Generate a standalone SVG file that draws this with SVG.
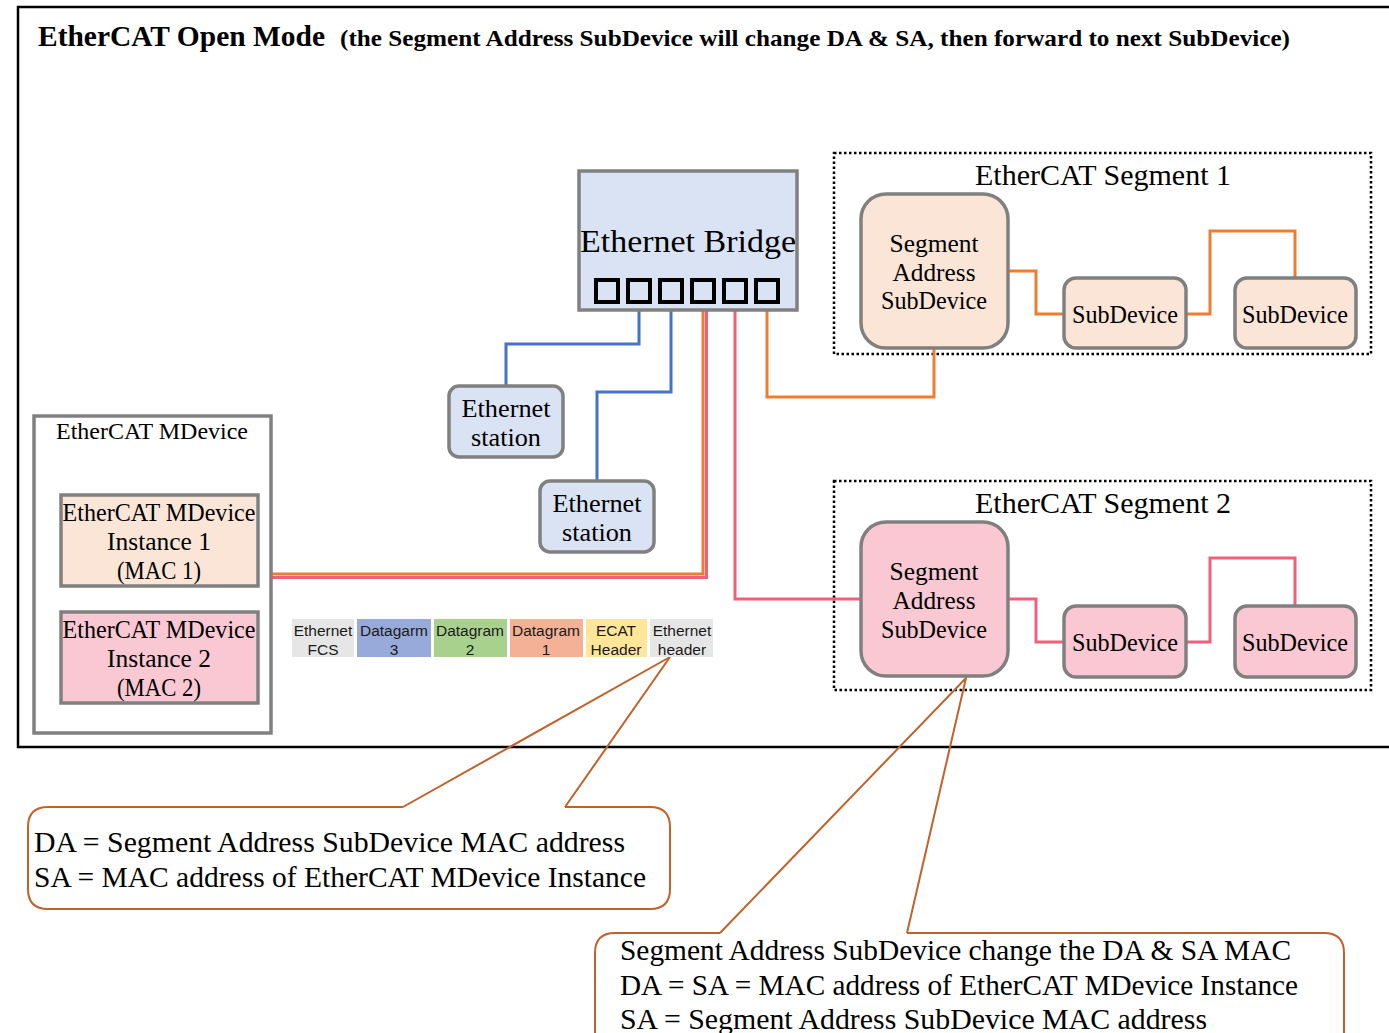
<svg xmlns="http://www.w3.org/2000/svg" width="1389" height="1033" viewBox="0 0 1389 1033">
<style>
.serif{font-family:"Liberation Serif","DejaVu Serif",serif;fill:#000}
.sans{font-family:"Liberation Sans",Arial,sans-serif;fill:#1a1a1a;font-size:15.5px}
.box{stroke:#808080;stroke-width:3.5}
.peach{fill:#fbe5d6}
.pink{fill:#f9c8d2}
.lblue{fill:#dae3f3}
.port{fill:none;stroke:#000;stroke-width:4}
.dotted{fill:none;stroke:#000;stroke-width:2.5;stroke-dasharray:2.5 2.5}
.blue{fill:none;stroke:#4472c4;stroke-width:3}
.orange{fill:none;stroke:#ed7d31;stroke-width:3}
.red{fill:none;stroke:#f0607a;stroke-width:3}
.callout{fill:none;stroke:#c0622a;stroke-width:2}
</style>
<rect width="1389" height="1033" fill="#fff"/>
<path d="M1395,7 H18 V747 H1395" fill="none" stroke="#000" stroke-width="2.5"/>
<g id="title">
<text class="serif" x="38" y="46" font-size="29" font-weight="bold" textLength="287" lengthAdjust="spacingAndGlyphs">EtherCAT Open Mode</text>
<text class="serif" x="340" y="46" font-size="23" font-weight="bold" textLength="950" lengthAdjust="spacingAndGlyphs">(the Segment Address SubDevice will change DA &amp; SA, then forward to next SubDevice)</text>
</g>
<g id="segment1-frame">
<rect class="dotted" x="834" y="153" width="537" height="201"/>
<text class="serif" x="1103" y="185" font-size="29" text-anchor="middle" textLength="256" lengthAdjust="spacingAndGlyphs">EtherCAT Segment 1</text>
</g>
<g id="segment2-frame">
<rect class="dotted" x="834" y="481" width="537" height="209"/>
<text class="serif" x="1103" y="513" font-size="29" text-anchor="middle" textLength="256" lengthAdjust="spacingAndGlyphs">EtherCAT Segment 2</text>
</g>
<g id="connectors">
<path class="blue" d="M639,309 V344 H506 V386"/>
<path class="blue" d="M671,309 V392 H597 V481"/>
<path class="orange" d="M703,309 V574 H272"/>
<path class="red" d="M706.5,309 V577.5 H272" stroke-width="4"/>
<path class="red" d="M735,309 V599 H861"/>
<path class="orange" d="M767,309 V397 H934 V349"/>
<path class="orange" d="M1008,271 H1036 V314 H1064"/>
<path class="orange" d="M1186,314 H1210 V231 H1295 V278"/>
<path class="red" d="M1008,599 H1036 V642 H1064"/>
<path class="red" d="M1186,642 H1210 V558 H1295 V606"/>
<path class="callout" d="M403,807 L670,657 L565,807"/>
<path class="callout" d="M720,933 L966,678 L907,933"/>
</g>
<g id="ethernet-bridge">
<rect class="box lblue" x="579" y="171" width="218" height="139"/>
<text class="serif" x="688" y="252" font-size="32" text-anchor="middle" textLength="216" lengthAdjust="spacingAndGlyphs">Ethernet Bridge</text>
<rect class="port" x="596" y="280" width="22" height="22"/>
<rect class="port" x="628" y="280" width="22" height="22"/>
<rect class="port" x="660" y="280" width="22" height="22"/>
<rect class="port" x="692" y="280" width="22" height="22"/>
<rect class="port" x="724" y="280" width="22" height="22"/>
<rect class="port" x="756" y="280" width="22" height="22"/>
</g>
<g id="ethernet-station-1">
<rect class="box lblue" x="449" y="386" width="114" height="71" rx="10"/>
<text class="serif" x="506" y="417" font-size="24.5" text-anchor="middle" textLength="89" lengthAdjust="spacingAndGlyphs">Ethernet</text>
<text class="serif" x="506" y="446" font-size="24.5" text-anchor="middle" textLength="70" lengthAdjust="spacingAndGlyphs">station</text>
</g>
<g id="ethernet-station-2">
<rect class="box lblue" x="540" y="481" width="114" height="71" rx="10"/>
<text class="serif" x="597" y="512" font-size="24.5" text-anchor="middle" textLength="89" lengthAdjust="spacingAndGlyphs">Ethernet</text>
<text class="serif" x="597" y="541" font-size="24.5" text-anchor="middle" textLength="70" lengthAdjust="spacingAndGlyphs">station</text>
</g>
<g id="mdevice">
<rect class="box" fill="#fff" x="34" y="416" width="237" height="317"/>
<text class="serif" x="152" y="439" font-size="23.5" text-anchor="middle" textLength="192" lengthAdjust="spacingAndGlyphs">EtherCAT MDevice</text>
</g>
<g id="mdevice-instance-1">
<rect class="box peach" x="61" y="495" width="197" height="91"/>
<text class="serif" x="159" y="521" font-size="24.5" text-anchor="middle" textLength="193" lengthAdjust="spacingAndGlyphs">EtherCAT MDevice</text>
<text class="serif" x="159" y="550" font-size="24.5" text-anchor="middle" textLength="104" lengthAdjust="spacingAndGlyphs">Instance 1</text>
<text class="serif" x="159" y="579" font-size="24.5" text-anchor="middle" textLength="84" lengthAdjust="spacingAndGlyphs">(MAC 1)</text>
</g>
<g id="mdevice-instance-2">
<rect class="box pink" x="61" y="612" width="197" height="91"/>
<text class="serif" x="159" y="638" font-size="24.5" text-anchor="middle" textLength="193" lengthAdjust="spacingAndGlyphs">EtherCAT MDevice</text>
<text class="serif" x="159" y="667" font-size="24.5" text-anchor="middle" textLength="104" lengthAdjust="spacingAndGlyphs">Instance 2</text>
<text class="serif" x="159" y="696" font-size="24.5" text-anchor="middle" textLength="84" lengthAdjust="spacingAndGlyphs">(MAC 2)</text>
</g>
<g id="frame">
<rect x="292" y="619" width="62" height="38" fill="#e7e6e6"/>
<rect x="357" y="619" width="74" height="38" fill="#97aad9"/>
<rect x="434" y="619" width="73" height="38" fill="#a9d18e"/>
<rect x="510" y="619" width="73" height="38" fill="#f4b195"/>
<rect x="586" y="619" width="61" height="38" fill="#ffe699"/>
<rect x="650" y="619" width="63" height="38" fill="#e7e6e6"/>
<text class="sans" text-anchor="middle"><tspan x="323" y="636">Ethernet</tspan><tspan x="323" y="655">FCS</tspan></text>
<text class="sans" text-anchor="middle"><tspan x="394" y="636">Datagarm</tspan><tspan x="394" y="655">3</tspan></text>
<text class="sans" text-anchor="middle"><tspan x="470" y="636">Datagram</tspan><tspan x="470" y="655">2</tspan></text>
<text class="sans" text-anchor="middle"><tspan x="546" y="636">Datagram</tspan><tspan x="546" y="655">1</tspan></text>
<text class="sans" text-anchor="middle"><tspan x="616" y="636">ECAT</tspan><tspan x="616" y="655">Header</tspan></text>
<text class="sans" text-anchor="middle"><tspan x="682" y="636">Ethernet</tspan><tspan x="682" y="655">header</tspan></text>
</g>
<g id="seg1-sa-subdevice">
<rect class="box peach" x="861" y="194" width="147" height="154" rx="25" stroke-width="4"/>
<text class="serif" x="934" y="252" font-size="24.5" text-anchor="middle" textLength="89" lengthAdjust="spacingAndGlyphs">Segment</text>
<text class="serif" x="934" y="281" font-size="24.5" text-anchor="middle" textLength="83" lengthAdjust="spacingAndGlyphs">Address</text>
<text class="serif" x="934" y="309" font-size="24.5" text-anchor="middle" textLength="106" lengthAdjust="spacingAndGlyphs">SubDevice</text>
</g>
<g id="seg1-subdevice-1">
<rect class="box peach" x="1064" y="278" width="122" height="70" rx="12" stroke-width="4"/>
<text class="serif" x="1125" y="323" font-size="24.5" text-anchor="middle" textLength="106" lengthAdjust="spacingAndGlyphs">SubDevice</text>
</g>
<g id="seg1-subdevice-2">
<rect class="box peach" x="1235" y="278" width="121" height="70" rx="12" stroke-width="4"/>
<text class="serif" x="1295" y="323" font-size="24.5" text-anchor="middle" textLength="106" lengthAdjust="spacingAndGlyphs">SubDevice</text>
</g>
<g id="seg2-sa-subdevice">
<rect class="box pink" x="861" y="522" width="147" height="154" rx="25" stroke-width="4"/>
<text class="serif" x="934" y="580" font-size="24.5" text-anchor="middle" textLength="89" lengthAdjust="spacingAndGlyphs">Segment</text>
<text class="serif" x="934" y="609" font-size="24.5" text-anchor="middle" textLength="83" lengthAdjust="spacingAndGlyphs">Address</text>
<text class="serif" x="934" y="638" font-size="24.5" text-anchor="middle" textLength="106" lengthAdjust="spacingAndGlyphs">SubDevice</text>
</g>
<g id="seg2-subdevice-1">
<rect class="box pink" x="1064" y="606" width="122" height="71" rx="12" stroke-width="4"/>
<text class="serif" x="1125" y="651" font-size="24.5" text-anchor="middle" textLength="106" lengthAdjust="spacingAndGlyphs">SubDevice</text>
</g>
<g id="seg2-subdevice-2">
<rect class="box pink" x="1235" y="606" width="121" height="71" rx="12" stroke-width="4"/>
<text class="serif" x="1295" y="651" font-size="24.5" text-anchor="middle" textLength="106" lengthAdjust="spacingAndGlyphs">SubDevice</text>
</g>
<g id="callout-1">
<path class="callout" d="M403,807 H48 Q28,807 28,827 V889 Q28,909 48,909 H650 Q670,909 670,889 V827 Q670,807 650,807 H565"/>
<text class="serif" x="34" y="852" font-size="29" textLength="591" lengthAdjust="spacingAndGlyphs">DA = Segment Address SubDevice MAC address</text>
<text class="serif" x="34" y="887" font-size="29" textLength="612" lengthAdjust="spacingAndGlyphs">SA = MAC address of EtherCAT MDevice Instance</text>
</g>
<g id="callout-2">
<path class="callout" d="M720,933 H615 Q595,933 595,953 V1060 M1344,1060 V953 Q1344,933 1324,933 H907"/>
<text class="serif" x="620" y="960" font-size="29" textLength="671" lengthAdjust="spacingAndGlyphs">Segment Address SubDevice change the DA &amp; SA MAC</text>
<text class="serif" x="620" y="995" font-size="29" textLength="678" lengthAdjust="spacingAndGlyphs">DA = SA = MAC address of EtherCAT MDevice Instance</text>
<text class="serif" x="620" y="1029" font-size="29" textLength="587" lengthAdjust="spacingAndGlyphs">SA = Segment Address SubDevice MAC address</text>
</g>
</svg>
